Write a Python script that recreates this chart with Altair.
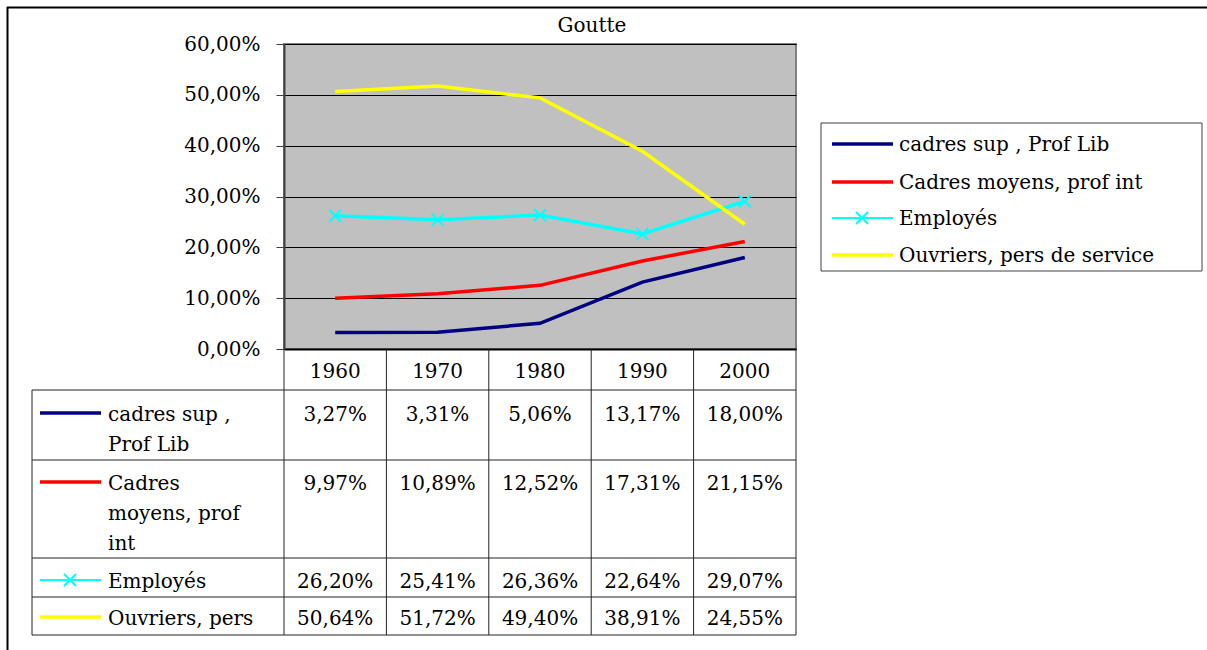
import altair as alt
import pandas as pd

# ---------------- data ----------------
years = ["1960", "1970", "1980", "1990", "2000"]
series_legend = ["cadres sup , Prof Lib", "Cadres moyens, prof int", "Employés", "Ouvriers, pers de service"]
series_table = ["cadres sup ,\nProf Lib", "Cadres\nmoyens, prof\nint", "Employés", "Ouvriers, pers"]
cadres_sup = [3.27, 3.31, 5.06, 13.17, 18.00]
cadres_moyens = [9.97, 10.89, 12.52, 17.31, 21.15]
employes = [26.20, 25.41, 26.36, 22.64, 29.07]
ouvriers = [50.64, 51.72, 49.40, 38.91, 24.55]
y_ticks = [0, 10, 20, 30, 40, 50, 60]
title_text = "Goutte"

colors = ["#000080", "#FF0000", "#00FFFF", "#FFFF00"]
widths = [3.5, 3.5, 2, 3.5]

values = [cadres_sup, cadres_moyens, employes, ouvriers]
rows = []
for name, vals in zip(series_legend, values):
    for yr, v in zip(years, vals):
        rows.append({"year": yr, "series": name, "value": v})
df = pd.DataFrame(rows)
ser_df = pd.DataFrame({"series": series_legend, "label": series_table})
years_df = pd.DataFrame({"year": years})
dummy = pd.DataFrame({"d": [0]})

# ---------------- geometry (page px) ----------------
OX, OY = 284, 44
W, H = 512, 305
FONT = "DejaVu Serif"
FS = 20


def px(x):
    return x - OX


def py(y):
    return y - OY


LABEL_EXPR = "replace(format(datum.value, '.2f'), '.', ',') + '%'"
VAL_EXPR = "replace(format(datum.value, '.2f'), '.', ',') + '%'"

x_scale = alt.Scale(type="band", paddingInner=0, paddingOuter=0, domain=years)
x_axis = alt.Axis(title=None, labelAngle=0, ticks=False, tickSize=0, labelPadding=12,
                  domainColor="black", domainWidth=2, labelFont=FONT, labelFontSize=FS,
                  labelColor="black", grid=False)
x_enc = alt.X("year:N", scale=x_scale, axis=x_axis)
y_enc = alt.Y("value:Q", scale=alt.Scale(domain=[0, 60], nice=False, zero=True),
              axis=alt.Axis(title=None, values=y_ticks, labelExpr=LABEL_EXPR, grid=True,
                            gridColor="black", gridWidth=1, tickColor="#404040", tickSize=8,
                            tickWidth=1, domainColor="#404040", domainWidth=2, labelPadding=16,
                            labelFont=FONT, labelFontSize=FS, labelColor="black"))
color = alt.Color("series:N", scale=alt.Scale(domain=series_legend, range=colors), legend=None)
sw = alt.StrokeWidth("series:N", scale=alt.Scale(domain=series_legend, range=widths), legend=None)

XSHAPE = "M-1,-1L1,1M-1,1L1,-1"

layers = []

# outer frame
frame = alt.Chart(dummy)
layers.append(frame.mark_rule(color="black", strokeWidth=2).encode(
    x=alt.value(px(7)), x2=alt.value(px(1207)), y=alt.value(py(7.5))))
layers.append(frame.mark_rule(color="black", strokeWidth=2).encode(
    x=alt.value(px(7.5)), y=alt.value(py(7)), y2=alt.value(py(650))))

# title
layers.append(frame.mark_text(font=FONT, fontSize=FS, color="black", baseline="middle",
                              align="center", text=title_text).encode(
    x=alt.value(px(592)), y=alt.value(py(26))))

# data lines and markers
base = alt.Chart(df)
layers.append(base.mark_line().encode(x=x_enc, y=y_enc, color=color, strokeWidth=sw))
layers.append(base.transform_filter(alt.datum.series == "Employés").mark_point(
    shape=XSHAPE, size=144, strokeWidth=2, filled=False, opacity=1).encode(
    x=x_enc, y=y_enc, color=color))

# table grid
TBL_LINE = "#222222"
table_h = [390, 460, 558, 597, 635]
for yy in table_h:
    layers.append(frame.mark_rule(color=TBL_LINE, strokeWidth=1).encode(
        x=alt.value(px(32)), x2=alt.value(W), y=alt.value(py(yy))))
layers.append(frame.mark_rule(color=TBL_LINE, strokeWidth=1).encode(
    x=alt.value(px(32)), y=alt.value(py(390)), y2=alt.value(py(635))))
layers.append(alt.Chart(years_df).mark_rule(color=TBL_LINE, strokeWidth=1).encode(
    x=alt.X("year:N", scale=x_scale, axis=x_axis, bandPosition=0),
    y=alt.value(py(349)), y2=alt.value(py(635))))
layers.append(frame.mark_rule(color=TBL_LINE, strokeWidth=1).encode(
    x=alt.value(W), y=alt.value(py(349)), y2=alt.value(py(635))))

# table rows
row_center = [413, 482, 580, 617]
for i, s in enumerate(series_legend):
    c = row_center[i]
    top = c - 8.5
    layers.append(alt.Chart(ser_df).transform_filter(alt.datum.series == s).mark_text(
        align="left", baseline="top", lineBreak="\n", lineHeight=30, font=FONT, fontSize=FS,
        color="black").encode(x=alt.value(px(108)), y=alt.value(py(top)), text="label:N"))
    layers.append(alt.Chart(ser_df).transform_filter(alt.datum.series == s).mark_rule(
        strokeWidth=widths[i]).encode(
        x=alt.value(px(40)), x2=alt.value(px(101)), y=alt.value(py(c)), color=color))
    if s == "Employés":
        layers.append(alt.Chart(ser_df).transform_filter(alt.datum.series == s).mark_point(
            shape=XSHAPE, size=144, strokeWidth=2, filled=False, opacity=1).encode(
            x=alt.value(px(70)), y=alt.value(py(c)), color=color))
    layers.append(base.transform_filter(alt.datum.series == s).transform_calculate(
        lbl=VAL_EXPR).mark_text(baseline="top", align="center", font=FONT, fontSize=FS,
                                 color="black").encode(
        x=x_enc, y=alt.value(py(top)), text="lbl:N"))

# legend box
layers.append(frame.mark_rect(fill="white", stroke="#404040", strokeWidth=1).encode(
    x=alt.value(px(821)), x2=alt.value(px(1202)), y=alt.value(py(123)), y2=alt.value(py(271))))
leg_y = [144, 182, 218, 255]
for i, s in enumerate(series_legend):
    c = leg_y[i]
    sub = alt.Chart(ser_df).transform_filter(alt.datum.series == s)
    layers.append(sub.mark_rule(strokeWidth=widths[i]).encode(
        x=alt.value(px(832)), x2=alt.value(px(893)), y=alt.value(py(c)), color=color))
    if s == "Employés":
        layers.append(sub.mark_point(shape=XSHAPE, size=144, strokeWidth=2, filled=False,
                                     opacity=1).encode(
            x=alt.value(px(862)), y=alt.value(py(c)), color=color))
    layers.append(sub.mark_text(align="left", baseline="middle", font=FONT, fontSize=FS,
                                color="black").encode(
        x=alt.value(px(899)), y=alt.value(py(c + 1)), text="series:N"))

chart = alt.layer(*layers).properties(
    width=W, height=H,
    padding={"left": OX, "top": OY, "right": 1207 - OX - W, "bottom": 650 - OY - H},
    autosize=alt.AutoSizeParams(type="none"),
).configure(background="white").configure_view(fill="#C0C0C0", stroke="#808080", strokeWidth=2)

chart.save("out.html", embed_options={"renderer": "svg", "actions": False})
